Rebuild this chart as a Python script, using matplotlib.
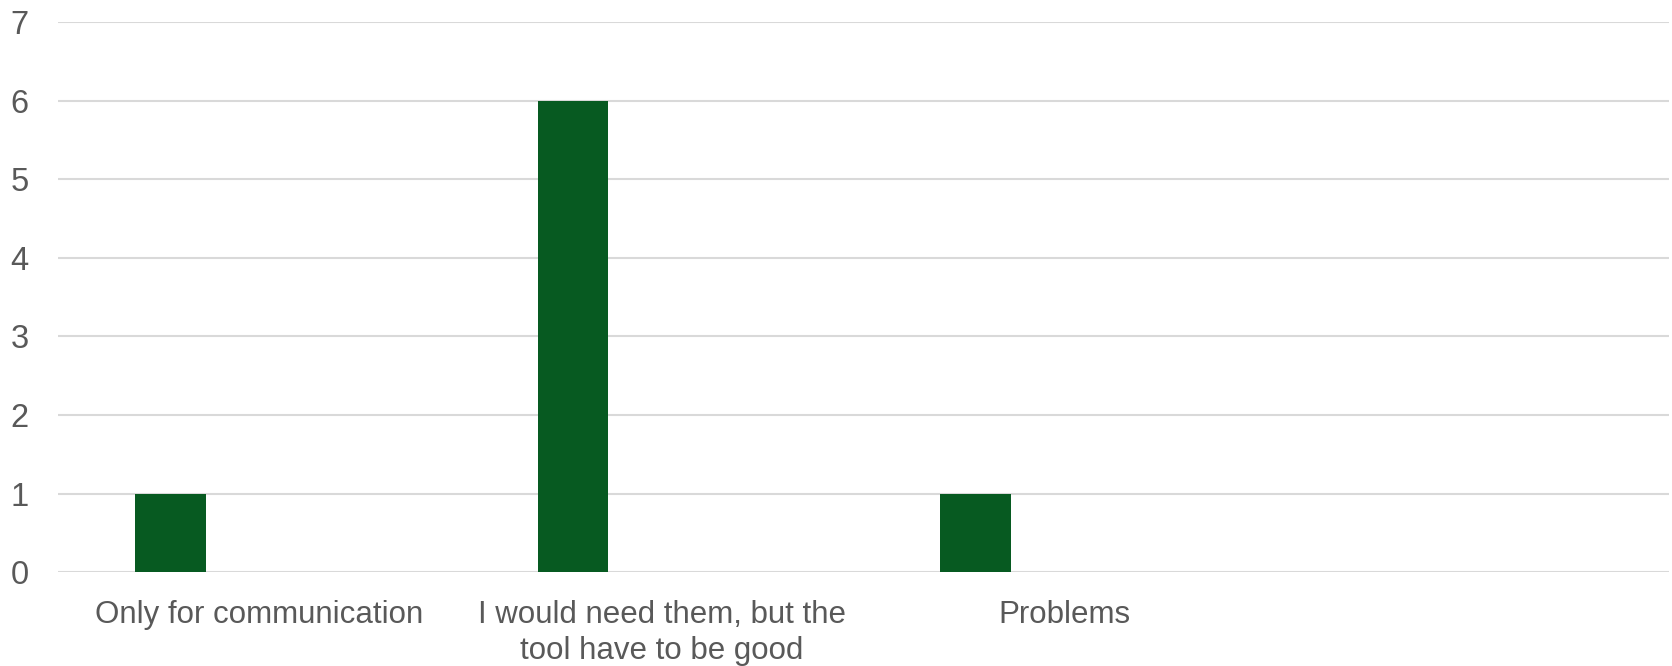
import matplotlib.pyplot as plt
import numpy as np

categories = ['Only for communication', 'I would need them, but the\ntool have to be good', 'Problems', '']
counts = [1, 6, 1, None]
yticks = [0, 1, 2, 3, 4, 5, 6, 7]

plt.rcParams['font.family'] = ['Liberation Sans', 'DejaVu Sans']

fig = plt.figure(figsize=(16.72, 6.66), dpi=100)
ax = fig.add_axes([0.0347, 0.141, 0.9633, 0.826])

x = np.arange(len(categories))
heights = [c if c is not None else 0 for c in counts]
ax.bar(x - 0.221, heights, width=0.176, color='#075A21', zorder=3)

ax.set_xlim(-0.5, len(categories) - 0.5)
ax.set_ylim(0, 7)
ax.set_yticks(yticks)
ax.set_xticks(x)
ax.set_xticklabels(categories, linespacing=1.25)

ax.grid(axis='y', color='#D9D9D9', linewidth=1.5, zorder=0)
ax.grid(axis='x', visible=False)
for side in ['top', 'right', 'left', 'bottom']:
    ax.spines[side].set_visible(False)
ax.tick_params(axis='both', length=0, labelsize=22.5, colors='#595959')
ax.tick_params(axis='y', pad=21, labelsize=23.5)
ax.tick_params(axis='x', pad=20)

fig.savefig('out.png', dpi=100)
